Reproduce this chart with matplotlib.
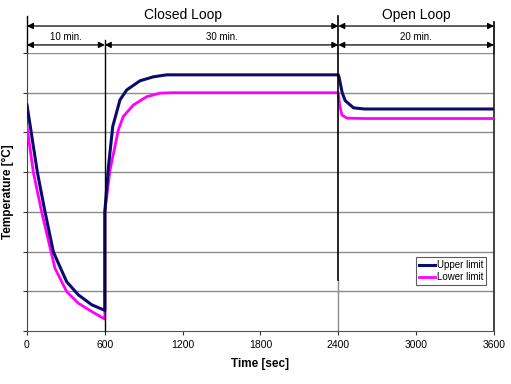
import matplotlib
matplotlib.use("Agg")
import matplotlib.pyplot as plt

plt.rcParams['font.family'] = ['Liberation Sans', 'DejaVu Sans']

# data (y axis has no labels, 0..7 grid units)
upper_t = [0, 80, 139, 203, 225, 306, 396, 499, 600,
           600, 627, 661, 717, 769, 871, 974, 1077, 1150,
           2400, 2405, 2430, 2453, 2517, 2600, 3600]
upper_v = [5.69, 4.0, 3.0, 2.0, 1.83, 1.24, 0.91, 0.66, 0.52,
           3.0, 4.1, 5.15, 5.82, 6.07, 6.3, 6.4, 6.45, 6.45,
           6.45, 6.4, 6.0, 5.8, 5.62, 5.59, 5.59]

lower_t = [0, 49, 113, 185, 216, 306, 396, 499, 600,
           600, 640, 704, 742, 820, 923, 1026, 1129,
           2400, 2410, 2427, 2466, 2600, 3600]
lower_v = [5.15, 4.0, 3.0, 2.0, 1.58, 0.99, 0.70, 0.49, 0.30,
           3.0, 4.05, 5.06, 5.4, 5.69, 5.9, 5.99, 6.0,
           6.0, 5.7, 5.44, 5.36, 5.35, 5.35]

x_ticks = [0, 600, 1200, 1800, 2400, 3000, 3600]
phases = [("Closed Loop", 0, 2400), ("Open Loop", 2400, 3600)]
steps = [("10 min.", 0, 600), ("30 min.", 600, 2400), ("20 min.", 2400, 3600)]

fig = plt.figure(figsize=(5.11, 3.84), dpi=100)
ax = fig.add_axes([0.0528, 0.138, 0.9139, 0.724])

ax.set_xlim(0, 3600)
ax.set_ylim(0, 7)
ax.set_xticks(x_ticks)
ax.set_yticks(range(8))
ax.set_yticklabels([])
ax.tick_params(axis="both", direction="out", length=3, width=0.8, labelsize=7.5, colors="#333333")
ax.tick_params(axis="x", labelcolor="black")

for yv in range(1, 8):
    ax.axhline(yv, color="#8c8c8c", lw=1, zorder=1)

ax.spines["top"].set_visible(False)
ax.spines["right"].set_color("#222222")
ax.spines["left"].set_color("#444444")
ax.spines["bottom"].set_color("#555555")
ax.spines["right"].set_linewidth(1.2)

ax.plot(upper_t, upper_v, color="#0b0b6e", lw=2.2, label="Upper limit", zorder=4)
ax.plot(lower_t, lower_v, color="#ff00ff", lw=2.0, label="Lower limit", zorder=3)

# vertical phase separators (reach above the plot)
trans = ax.get_xaxis_transform()
ax.plot([0, 0], [1.0, 1.133], color="black", lw=1, transform=trans, clip_on=False)
ax.plot([600, 600], [0, 1.045], color="black", lw=1, transform=trans, clip_on=False, zorder=5)
ax.plot([2400, 2400], [1.28 / 7, 1.133], color="black", lw=1.2, transform=trans, clip_on=False, zorder=5)
ax.plot([2400, 2400], [0, 1.28 / 7], color="#8c8c8c", lw=1, transform=trans, clip_on=False)
ax.plot([3600, 3600], [1.0, 1.11], color="black", lw=1.2, transform=trans, clip_on=False)

arrow = dict(arrowstyle="<|-|>", color="black", lw=0.9, mutation_scale=9, shrinkA=0, shrinkB=0)
for name, a, b in phases:
    ax.annotate("", xy=(a, 1.097), xytext=(b, 1.097), xycoords=trans, textcoords=trans,
                arrowprops=arrow, annotation_clip=False)
    ax.text((a + b) / 2, 1.135, name, transform=trans, ha="center", va="center", fontsize=10)
for name, a, b in steps:
    ax.annotate("", xy=(a, 1.029), xytext=(b, 1.029), xycoords=trans, textcoords=trans,
                arrowprops=arrow, annotation_clip=False)
    ax.text((a + b) / 2, 1.056, name, transform=trans, ha="center", va="center", fontsize=7)

ax.set_xlabel("Time [sec]", fontsize=8.5, fontweight="bold", labelpad=6)
ax.set_ylabel("Temperature [°C]", fontsize=8.5, fontweight="bold", labelpad=3)

leg = ax.legend(loc="lower right", bbox_to_anchor=(0.983, 0.165), fontsize=7, frameon=True,
                fancybox=False, edgecolor="#333333", handlelength=1.6, handletextpad=0.2,
                borderpad=0.3, labelspacing=0.2, borderaxespad=0)
leg.get_frame().set_linewidth(0.8)

fig.savefig("out.png", dpi=100)
